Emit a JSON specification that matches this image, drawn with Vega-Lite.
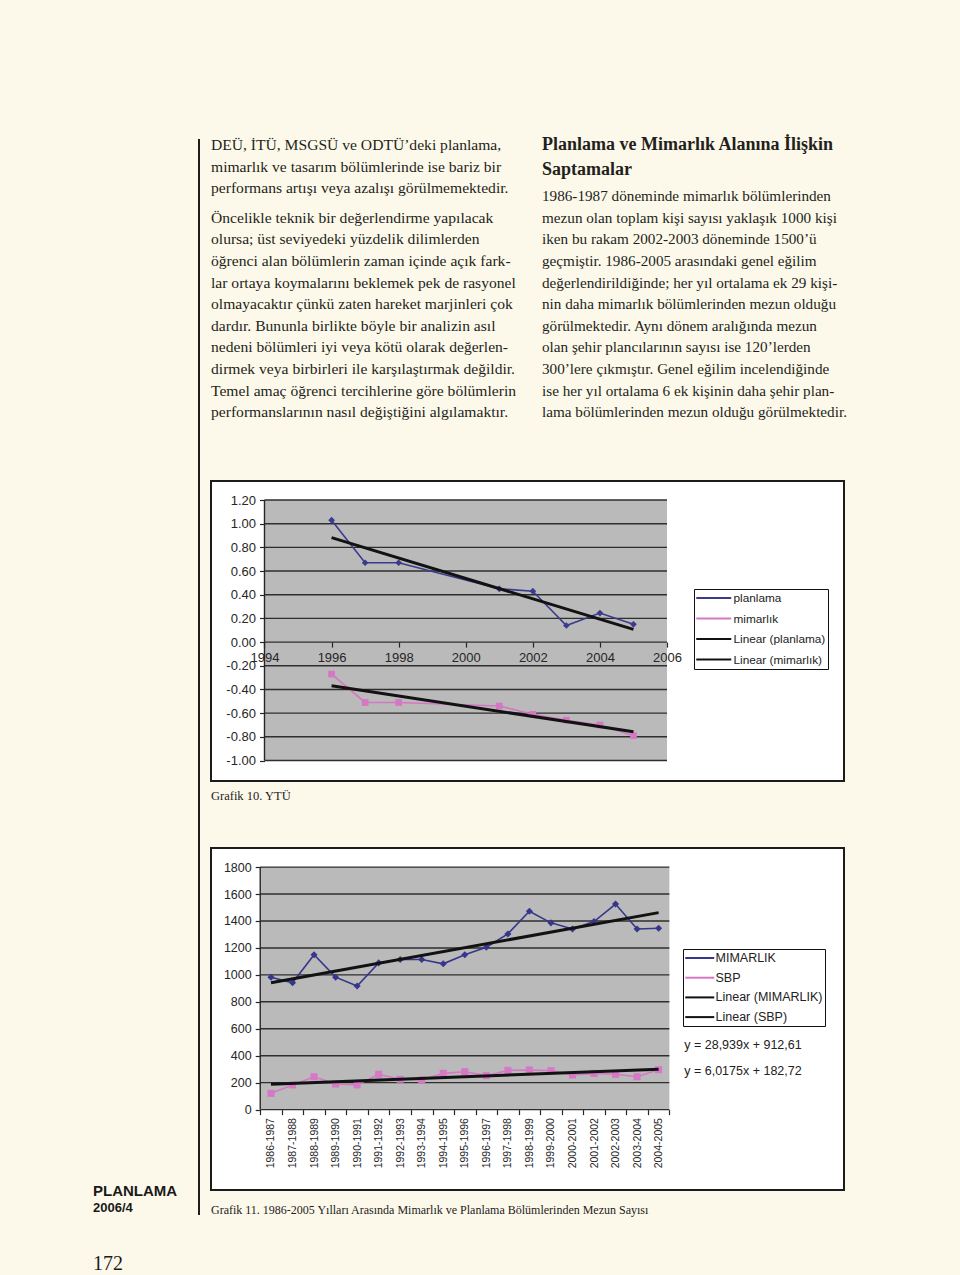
{
"$schema": "https://vega.github.io/schema/vega-lite/v6.json",
"background": "#fdf9ea",
"padding": {"left": 93, "top": 130, "right": 117, "bottom": 0},
"config": {
  "view": {"stroke": null},
  "font": "Liberation Sans",
  "axis": {"labelFont": "Liberation Sans", "labelColor": "#262626", "tickColor": "#262626", "tickWidth": 1.2, "labelOverlap": false},
  "title": {"font": "Liberation Serif", "fontWeight": "normal", "color": "#222222"}
},
"datasets": {
  "metin": [
    {"col": 0, "line": 0, "kind": "p1", "text": "DEÜ, İTÜ, MSGSÜ ve ODTÜ’deki planlama,"},
    {"col": 0, "line": 1, "kind": "p1", "text": "mimarlık ve tasarım bölümlerinde ise bariz bir"},
    {"col": 0, "line": 2, "kind": "p1", "text": "performans artışı veya azalışı görülmemektedir."},
    {"col": 0, "line": 3, "kind": "p2", "text": "Öncelikle teknik bir değerlendirme yapılacak"},
    {"col": 0, "line": 4, "kind": "p2", "text": "olursa; üst seviyedeki yüzdelik dilimlerden"},
    {"col": 0, "line": 5, "kind": "p2", "text": "öğrenci alan bölümlerin zaman içinde açık fark-"},
    {"col": 0, "line": 6, "kind": "p2", "text": "lar ortaya koymalarını beklemek pek de rasyonel"},
    {"col": 0, "line": 7, "kind": "p2", "text": "olmayacaktır çünkü zaten hareket marjinleri çok"},
    {"col": 0, "line": 8, "kind": "p2", "text": "dardır. Bununla birlikte böyle bir analizin asıl"},
    {"col": 0, "line": 9, "kind": "p2", "text": "nedeni bölümleri iyi veya kötü olarak değerlen-"},
    {"col": 0, "line": 10, "kind": "p2", "text": "dirmek veya birbirleri ile karşılaştırmak değildir."},
    {"col": 0, "line": 11, "kind": "p2", "text": "Temel amaç öğrenci tercihlerine göre bölümlerin"},
    {"col": 0, "line": 12, "kind": "p2", "text": "performanslarının nasıl değiştiğini algılamaktır."},
    {"col": 1, "line": 0, "kind": "h1", "text": "Planlama ve Mimarlık Alanına İlişkin"},
    {"col": 1, "line": 1, "kind": "h2", "text": "Saptamalar"},
    {"col": 1, "line": 2, "kind": "b", "text": "1986-1987 döneminde mimarlık bölümlerinden"},
    {"col": 1, "line": 3, "kind": "b", "text": "mezun olan toplam kişi sayısı yaklaşık 1000 kişi"},
    {"col": 1, "line": 4, "kind": "b", "text": "iken bu rakam 2002-2003 döneminde 1500’ü"},
    {"col": 1, "line": 5, "kind": "b", "text": "geçmiştir. 1986-2005 arasındaki genel eğilim"},
    {"col": 1, "line": 6, "kind": "b", "text": "değerlendirildiğinde; her yıl ortalama ek 29 kişi-"},
    {"col": 1, "line": 7, "kind": "b", "text": "nin daha mimarlık bölümlerinden mezun olduğu"},
    {"col": 1, "line": 8, "kind": "b", "text": "görülmektedir. Aynı dönem aralığında mezun"},
    {"col": 1, "line": 9, "kind": "b", "text": "olan şehir plancılarının sayısı ise 120’lerden"},
    {"col": 1, "line": 10, "kind": "b", "text": "300’lere çıkmıştır. Genel eğilim incelendiğinde"},
    {"col": 1, "line": 11, "kind": "b", "text": "ise her yıl ortalama 6 ek kişinin daha şehir plan-"},
    {"col": 1, "line": 12, "kind": "b", "text": "lama bölümlerinden mezun olduğu görülmektedir."}
  ],
  "yildiz": [
    {"year": 1996, "series": "planlama", "value": 1.03},
    {"year": 1997, "series": "planlama", "value": 0.67},
    {"year": 1998, "series": "planlama", "value": 0.67},
    {"year": 2001, "series": "planlama", "value": 0.45},
    {"year": 2002, "series": "planlama", "value": 0.43},
    {"year": 2003, "series": "planlama", "value": 0.14},
    {"year": 2004, "series": "planlama", "value": 0.245},
    {"year": 2005, "series": "planlama", "value": 0.15},
    {"year": 1996, "series": "mimarlık", "value": -0.27},
    {"year": 1997, "series": "mimarlık", "value": -0.51},
    {"year": 1998, "series": "mimarlık", "value": -0.51},
    {"year": 2001, "series": "mimarlık", "value": -0.54},
    {"year": 2002, "series": "mimarlık", "value": -0.61},
    {"year": 2003, "series": "mimarlık", "value": -0.66},
    {"year": 2004, "series": "mimarlık", "value": -0.70},
    {"year": 2005, "series": "mimarlık", "value": -0.79}
  ],
  "mezun": [
    {"period": "1986-1987", "i": 1, "series": "MIMARLIK", "value": 983},
    {"period": "1987-1988", "i": 2, "series": "MIMARLIK", "value": 941},
    {"period": "1988-1989", "i": 3, "series": "MIMARLIK", "value": 1149},
    {"period": "1989-1990", "i": 4, "series": "MIMARLIK", "value": 983},
    {"period": "1990-1991", "i": 5, "series": "MIMARLIK", "value": 917},
    {"period": "1991-1992", "i": 6, "series": "MIMARLIK", "value": 1089},
    {"period": "1992-1993", "i": 7, "series": "MIMARLIK", "value": 1114},
    {"period": "1993-1994", "i": 8, "series": "MIMARLIK", "value": 1114},
    {"period": "1994-1995", "i": 9, "series": "MIMARLIK", "value": 1082},
    {"period": "1995-1996", "i": 10, "series": "MIMARLIK", "value": 1149},
    {"period": "1996-1997", "i": 11, "series": "MIMARLIK", "value": 1205},
    {"period": "1997-1998", "i": 12, "series": "MIMARLIK", "value": 1304},
    {"period": "1998-1999", "i": 13, "series": "MIMARLIK", "value": 1472},
    {"period": "1999-2000", "i": 14, "series": "MIMARLIK", "value": 1386},
    {"period": "2000-2001", "i": 15, "series": "MIMARLIK", "value": 1341},
    {"period": "2001-2002", "i": 16, "series": "MIMARLIK", "value": 1396},
    {"period": "2002-2003", "i": 17, "series": "MIMARLIK", "value": 1526},
    {"period": "2003-2004", "i": 18, "series": "MIMARLIK", "value": 1341},
    {"period": "2004-2005", "i": 19, "series": "MIMARLIK", "value": 1346},
    {"period": "1986-1987", "i": 1, "series": "SBP", "value": 121},
    {"period": "1987-1988", "i": 2, "series": "SBP", "value": 183},
    {"period": "1988-1989", "i": 3, "series": "SBP", "value": 244},
    {"period": "1989-1990", "i": 4, "series": "SBP", "value": 190},
    {"period": "1990-1991", "i": 5, "series": "SBP", "value": 183},
    {"period": "1991-1992", "i": 6, "series": "SBP", "value": 262},
    {"period": "1992-1993", "i": 7, "series": "SBP", "value": 225},
    {"period": "1993-1994", "i": 8, "series": "SBP", "value": 220},
    {"period": "1994-1995", "i": 9, "series": "SBP", "value": 269},
    {"period": "1995-1996", "i": 10, "series": "SBP", "value": 281},
    {"period": "1996-1997", "i": 11, "series": "SBP", "value": 252},
    {"period": "1997-1998", "i": 12, "series": "SBP", "value": 291},
    {"period": "1998-1999", "i": 13, "series": "SBP", "value": 294},
    {"period": "1999-2000", "i": 14, "series": "SBP", "value": 289},
    {"period": "2000-2001", "i": 15, "series": "SBP", "value": 257},
    {"period": "2001-2002", "i": 16, "series": "SBP", "value": 269},
    {"period": "2002-2003", "i": 17, "series": "SBP", "value": 262},
    {"period": "2003-2004", "i": 18, "series": "SBP", "value": 244},
    {"period": "2004-2005", "i": 19, "series": "SBP", "value": 296}
  ]
},
"spacing": 10,
"resolve": {"scale": {"x": "independent", "y": "independent", "color": "independent", "shape": "independent"}, "legend": {"color": "independent", "shape": "independent"}},
"hconcat": [
  {
    "width": 106, "height": 1145,
    "data": {"values": [{}]},
    "layer": [
      {"mark": {"type": "rule", "color": "#1e1e1e", "strokeWidth": 2},
       "encoding": {
         "x": {"datum": 1, "type": "quantitative", "scale": {"domain": [0, 1], "nice": false}, "axis": null},
         "y": {"datum": 9, "type": "quantitative", "scale": {"domain": [0, 1145], "reverse": true, "nice": false, "zero": false}, "axis": null},
         "y2": {"datum": 1085}}},
      {"mark": {"type": "text", "align": "left", "baseline": "middle", "font": "Liberation Sans", "fontWeight": "bold", "fontSize": 15, "color": "#1a1a1a"},
       "encoding": {
         "x": {"datum": 0, "type": "quantitative", "scale": {"domain": [0, 1], "nice": false}, "axis": null},
         "y": {"datum": 1061, "type": "quantitative", "scale": {"domain": [0, 1145], "reverse": true, "nice": false, "zero": false}, "axis": null},
         "text": {"value": "PLANLAMA"}}},
      {"mark": {"type": "text", "align": "left", "baseline": "middle", "font": "Liberation Sans", "fontWeight": "bold", "fontSize": 13, "color": "#1a1a1a"},
       "encoding": {
         "x": {"datum": 0, "type": "quantitative", "scale": {"domain": [0, 1], "nice": false}, "axis": null},
         "y": {"datum": 1078, "type": "quantitative", "scale": {"domain": [0, 1145], "reverse": true, "nice": false, "zero": false}, "axis": null},
         "text": {"value": "2006/4"}}},
      {"mark": {"type": "text", "align": "left", "baseline": "middle", "font": "Liberation Serif", "fontSize": 20, "color": "#1a1a1a"},
       "encoding": {
         "x": {"datum": 0, "type": "quantitative", "scale": {"domain": [0, 1], "nice": false}, "axis": null},
         "y": {"datum": 1134, "type": "quantitative", "scale": {"domain": [0, 1145], "reverse": true, "nice": false, "zero": false}, "axis": null},
         "text": {"value": "172"}}}
    ]
  },
  {
    "spacing": 50,
    "resolve": {"scale": {"x": "independent", "y": "independent", "color": "independent", "shape": "independent"}, "legend": {"color": "independent", "shape": "independent"}},
    "vconcat": [
      {
        "width": 633, "height": 300,
        "data": {"name": "metin"},
        "encoding": {
          "x": {"field": "col", "type": "quantitative", "scale": {"domain": [0, 1.9124], "nice": false}, "axis": null},
          "y": {"field": "line", "type": "quantitative", "scale": {"domain": [-0.6944, 13.194], "reverse": true, "nice": false, "zero": false}, "axis": null},
          "text": {"field": "text"}
        },
        "layer": [
          {"transform": [{"filter": "datum.kind == 'p1'"}],
           "mark": {"type": "text", "align": "left", "baseline": "middle", "font": "Liberation Serif", "fontSize": 15.6, "color": "#231f20"}},
          {"transform": [{"filter": "datum.kind == 'p2'"}],
           "mark": {"type": "text", "align": "left", "baseline": "middle", "font": "Liberation Serif", "fontSize": 15.6, "color": "#231f20", "yOffset": 8}},
          {"transform": [{"filter": "datum.kind == 'b'"}],
           "mark": {"type": "text", "align": "left", "baseline": "middle", "font": "Liberation Serif", "fontSize": 15.2, "color": "#231f20", "yOffset": 8}},
          {"transform": [{"filter": "datum.kind == 'h1'"}],
           "mark": {"type": "text", "align": "left", "baseline": "middle", "font": "Liberation Serif", "fontWeight": "bold", "fontSize": 18, "color": "#231f20", "yOffset": 0.5}},
          {"transform": [{"filter": "datum.kind == 'h2'"}],
           "mark": {"type": "text", "align": "left", "baseline": "middle", "font": "Liberation Serif", "fontWeight": "bold", "fontSize": 18, "color": "#231f20", "yOffset": 3.5}}
        ]
      },
      {
        "spacing": 43,
        "resolve": {"scale": {"x": "independent", "y": "independent", "color": "independent", "shape": "independent"}, "legend": {"color": "independent", "shape": "independent"}},
        "vconcat": [
          {
            "width": 633, "height": 300,
            "view": {"fill": "#ffffff", "stroke": "#1c1c1c", "strokeWidth": 2},
            "title": {"text": "Grafik 10. YTÜ", "orient": "bottom", "anchor": "start", "frame": "group", "baseline": "top", "offset": 9, "fontSize": 12.5},
            "layer": [
              {"data": {"values": [{}]},
               "mark": {"type": "rect", "color": "#bababa"},
               "encoding": {
                 "x": {"datum": 1994, "type": "quantitative", "scale": {"domain": [1992.405, 2011.277], "nice": false, "zero": false}},
                 "x2": {"datum": 2006},
                 "y": {"datum": -1, "type": "quantitative", "scale": {"domain": [-1.1731, 1.3605], "nice": false, "zero": false}},
                 "y2": {"datum": 1.2}}},
              {"data": {"values": [{"g": -1}, {"g": -0.8}, {"g": -0.6}, {"g": -0.4}, {"g": -0.2}, {"g": 0}, {"g": 0.2}, {"g": 0.4}, {"g": 0.6}, {"g": 0.8}, {"g": 1}, {"g": 1.2}]},
               "mark": {"type": "rule", "color": "#2e2e2e", "strokeWidth": 1.4},
               "encoding": {
                 "x": {"datum": 1994, "type": "quantitative", "scale": {"domain": [1992.405, 2011.277], "nice": false, "zero": false}},
                 "x2": {"datum": 2006},
                 "y": {"field": "g", "type": "quantitative", "scale": {"domain": [-1.1731, 1.3605], "nice": false, "zero": false}}}},
              {"data": {"values": [{}]},
               "mark": {"type": "rule", "color": "#262626", "strokeWidth": 1.4},
               "encoding": {
                 "x": {"datum": 1994, "type": "quantitative", "scale": {"domain": [1992.405, 2011.277], "nice": false, "zero": false}},
                 "y": {"datum": -1, "type": "quantitative", "scale": {"domain": [-1.1731, 1.3605], "nice": false, "zero": false}},
                 "y2": {"datum": 1.2}}},
              {"data": {"name": "yildiz"},
               "mark": {"type": "line", "strokeWidth": 1.6},
               "encoding": {
                 "x": {"field": "year", "type": "quantitative", "scale": {"domain": [1992.405, 2011.277], "nice": false, "zero": false},
                       "axis": {"orient": "bottom", "offset": -138.9, "values": [1994, 1996, 1998, 2000, 2002, 2004, 2006], "tickCount": 100, "zindex": 1, "format": "d", "domain": false, "tickSize": 5, "labelFontSize": 13, "labelPadding": 4, "grid": false, "title": null, "labelFlush": false, "labelOverlap": false}},
                 "y": {"field": "value", "type": "quantitative", "scale": {"domain": [-1.1731, 1.3605], "nice": false, "zero": false},
                       "axis": {"orient": "left", "offset": -53.5, "values": [-1, -0.8, -0.6, -0.4, -0.2, 0, 0.2, 0.4, 0.6, 0.8, 1, 1.2], "tickCount": 100, "zindex": 1, "labelExpr": "replace(format(datum.value, '.2f'), '−', '-')", "domain": false, "tickSize": 5, "labelFontSize": 13, "labelPadding": 4, "grid": false, "title": null, "labelFlush": false, "labelOverlap": false}},
                 "color": {"field": "series", "type": "nominal",
                   "scale": {"domain": ["planlama", "mimarlık", "Linear (planlama)", "Linear (mimarlık)"], "range": ["#3b3b8e", "#d577c4", "#111111", "#111111"]},
                   "legend": {"orient": "none", "legendX": 483, "legendY": 108, "title": null, "padding": 2,
                     "fillColor": "#ffffff", "strokeColor": "#111111", "rowPadding": 6.5, "labelOffset": 23.5,
                     "labelFont": "Liberation Sans", "labelFontSize": 11.8, "labelColor": "#222222",
                     "symbolSize": 144, "symbolType": "M-1.125,0L4.708,0", "symbolStrokeWidth": 2}}}},
              {"data": {"name": "yildiz"},
               "mark": {"type": "point", "filled": true, "size": 45, "opacity": 1},
               "encoding": {
                 "x": {"field": "year", "type": "quantitative", "scale": {"domain": [1992.405, 2011.277], "nice": false, "zero": false}},
                 "y": {"field": "value", "type": "quantitative", "scale": {"domain": [-1.1731, 1.3605], "nice": false, "zero": false}},
                 "color": {"field": "series", "type": "nominal",
                   "scale": {"domain": ["planlama", "mimarlık", "Linear (planlama)", "Linear (mimarlık)"], "range": ["#3b3b8e", "#d577c4", "#111111", "#111111"]}},
                 "shape": {"field": "series", "type": "nominal", "scale": {"domain": ["planlama", "mimarlık"], "range": ["diamond", "square"]}, "legend": null}}},
              {"data": {"name": "yildiz"},
               "transform": [{"regression": "value", "on": "year", "groupby": ["series"], "extent": [1996, 2005]}],
               "mark": {"type": "line", "color": "#121212", "strokeWidth": 3},
               "encoding": {
                 "x": {"field": "year", "type": "quantitative", "scale": {"domain": [1992.405, 2011.277], "nice": false, "zero": false}},
                 "y": {"field": "value", "type": "quantitative", "scale": {"domain": [-1.1731, 1.3605], "nice": false, "zero": false}},
                 "detail": {"field": "series", "type": "nominal"}}}
            ]
          },
          {
            "width": 633, "height": 342,
            "view": {"fill": "#ffffff", "stroke": "#1c1c1c", "strokeWidth": 2},
            "title": {"text": "Grafik 11. 1986-2005 Yılları Arasında Mimarlık ve Planlama Bölümlerinden Mezun Sayısı", "orient": "bottom", "anchor": "start", "frame": "group", "baseline": "top", "offset": 15, "fontSize": 12},
            "layer": [
              {"data": {"values": [{}]},
               "mark": {"type": "rect", "color": "#bababa"},
               "encoding": {
                 "x": {"datum": 0.5, "type": "quantitative", "scale": {"domain": [-1.786, 27.609], "nice": false, "zero": false}},
                 "x2": {"datum": 19.5},
                 "y": {"datum": 0, "type": "quantitative", "scale": {"domain": [-596.7, 1941.7], "nice": false, "zero": false}},
                 "y2": {"datum": 1800}}},
              {"data": {"values": [{"g": 0}, {"g": 200}, {"g": 400}, {"g": 600}, {"g": 800}, {"g": 1000}, {"g": 1200}, {"g": 1400}, {"g": 1600}, {"g": 1800}]},
               "mark": {"type": "rule", "color": "#2e2e2e", "strokeWidth": 1.4},
               "encoding": {
                 "x": {"datum": 0.5, "type": "quantitative", "scale": {"domain": [-1.786, 27.609], "nice": false, "zero": false}},
                 "x2": {"datum": 19.5},
                 "y": {"field": "g", "type": "quantitative", "scale": {"domain": [-596.7, 1941.7], "nice": false, "zero": false}}}},
              {"data": {"values": [{}]},
               "mark": {"type": "rule", "color": "#262626", "strokeWidth": 1.4},
               "encoding": {
                 "x": {"datum": 0.5, "type": "quantitative", "scale": {"domain": [-1.786, 27.609], "nice": false, "zero": false}},
                 "y": {"datum": 0, "type": "quantitative", "scale": {"domain": [-596.7, 1941.7], "nice": false, "zero": false}},
                 "y2": {"datum": 1800}}},
              {"data": {"name": "mezun"},
               "mark": {"type": "line", "strokeWidth": 1.6},
               "encoding": {
                 "x": {"field": "i", "type": "quantitative", "scale": {"domain": [-1.786, 27.609], "nice": false, "zero": false},
                       "axis": {"orient": "bottom", "offset": -80.4, "values": [0.5, 1.5, 2.5, 3.5, 4.5, 5.5, 6.5, 7.5, 8.5, 9.5, 10.5, 11.5, 12.5, 13.5, 14.5, 15.5, 16.5, 17.5, 18.5, 19.5], "tickCount": 100, "zindex": 1,
                                "labelExpr": "datum.value < 19 ? (datum.value + 1985.5) + '-' + (datum.value + 1986.5) : ''",
                                "labelAngle": -90, "labelOffset": 10.77, "labelPadding": 3, "labelFontSize": 10.5, "tickSize": 5, "domain": false, "grid": false, "title": null, "labelOverlap": false, "labelFlush": false, "labelBound": false}},
                 "y": {"field": "value", "type": "quantitative", "scale": {"domain": [-596.7, 1941.7], "nice": false, "zero": false},
                       "axis": {"orient": "left", "offset": -49.2, "values": [0, 200, 400, 600, 800, 1000, 1200, 1400, 1600, 1800], "tickCount": 100, "zindex": 1, "format": "d", "domain": false, "tickSize": 5, "labelFontSize": 12.5, "labelPadding": 4, "grid": false, "title": null, "labelFlush": false, "labelOverlap": false}},
                 "color": {"field": "series", "type": "nominal",
                   "scale": {"domain": ["MIMARLIK", "SBP", "Linear (MIMARLIK)", "Linear (SBP)"], "range": ["#36368c", "#d678c6", "#111111", "#111111"]},
                   "legend": {"orient": "none", "legendX": 472, "legendY": 101, "title": null, "padding": 2,
                     "fillColor": "#ffffff", "strokeColor": "#111111", "rowPadding": 5.7, "labelOffset": 16.5,
                     "labelFont": "Liberation Sans", "labelFontSize": 12.5, "labelColor": "#222222",
                     "symbolSize": 144, "symbolType": "M-1.125,0L3.708,0", "symbolStrokeWidth": 2}}}},
              {"data": {"name": "mezun"},
               "mark": {"type": "point", "filled": true, "size": 50, "opacity": 1},
               "encoding": {
                 "x": {"field": "i", "type": "quantitative", "scale": {"domain": [-1.786, 27.609], "nice": false, "zero": false}},
                 "y": {"field": "value", "type": "quantitative", "scale": {"domain": [-596.7, 1941.7], "nice": false, "zero": false}},
                 "color": {"field": "series", "type": "nominal",
                   "scale": {"domain": ["MIMARLIK", "SBP", "Linear (MIMARLIK)", "Linear (SBP)"], "range": ["#36368c", "#d678c6", "#111111", "#111111"]}},
                 "shape": {"field": "series", "type": "nominal", "scale": {"domain": ["MIMARLIK", "SBP"], "range": ["diamond", "square"]}, "legend": null}}},
              {"data": {"name": "mezun"},
               "transform": [{"regression": "value", "on": "i", "groupby": ["series"], "extent": [1, 19]}],
               "mark": {"type": "line", "color": "#121212", "strokeWidth": 3},
               "encoding": {
                 "x": {"field": "i", "type": "quantitative", "scale": {"domain": [-1.786, 27.609], "nice": false, "zero": false}},
                 "y": {"field": "value", "type": "quantitative", "scale": {"domain": [-596.7, 1941.7], "nice": false, "zero": false}},
                 "detail": {"field": "series", "type": "nominal"}}},
              {"data": {"values": [{}]},
               "mark": {"type": "text", "align": "left", "baseline": "middle", "font": "Liberation Sans", "fontSize": 12.5, "color": "#222222"},
               "encoding": {
                 "x": {"datum": 20.19, "type": "quantitative", "scale": {"domain": [-1.786, 27.609], "nice": false, "zero": false}},
                 "y": {"datum": 479.4, "type": "quantitative", "scale": {"domain": [-596.7, 1941.7], "nice": false, "zero": false}},
                 "text": {"value": "y = 28,939x + 912,61"}}},
              {"data": {"values": [{}]},
               "mark": {"type": "text", "align": "left", "baseline": "middle", "font": "Liberation Sans", "fontSize": 12.5, "color": "#222222"},
               "encoding": {
                 "x": {"datum": 20.19, "type": "quantitative", "scale": {"domain": [-1.786, 27.609], "nice": false, "zero": false}},
                 "y": {"datum": 286.5, "type": "quantitative", "scale": {"domain": [-596.7, 1941.7], "nice": false, "zero": false}},
                 "text": {"value": "y = 6,0175x + 182,72"}}}
            ]
          }
        ]
      }
    ]
  }
]
}
